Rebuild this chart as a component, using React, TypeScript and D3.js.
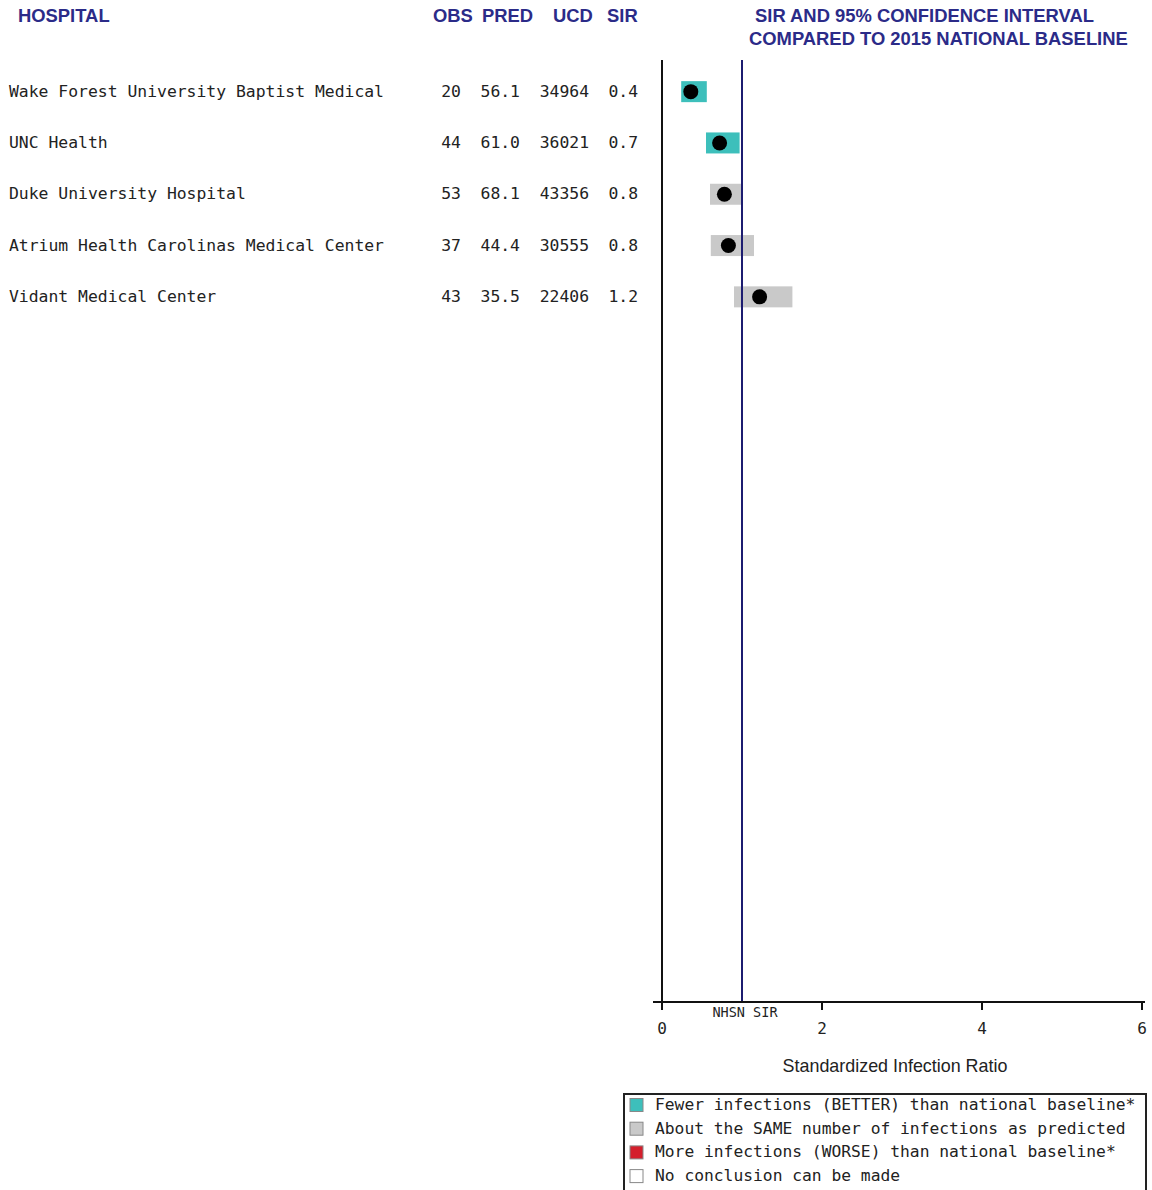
import { useEffect, useRef } from "react";
import * as d3 from "d3";

const HOSPITALS = [
  "Wake Forest University Baptist Medical",
  "UNC Health",
  "Duke University Hospital",
  "Atrium Health Carolinas Medical Center",
  "Vidant Medical Center",
];
const OBS = [20, 44, 53, 37, 43];
const PRED = ["56.1", "61.0", "68.1", "44.4", "35.5"];
const UCD = [34964, 36021, 43356, 30555, 22406];
const SIR_LABEL = ["0.4", "0.7", "0.8", "0.8", "1.2"];
const SIR = [0.36, 0.72, 0.78, 0.83, 1.22];
const CI_LOW = [0.24, 0.55, 0.6, 0.61, 0.9];
const CI_HIGH = [0.56, 0.97, 1.01, 1.15, 1.63];
const CATEGORY = ["better", "better", "same", "same", "same"];
const X_TICKS = [0, 2, 4, 6];
const BASELINE = 1;

const CAT_COLORS: Record<string, string> = {
  better: "#3dbfbb",
  same: "#c9c9c9",
  worse: "#d41f2c",
  none: "#ffffff",
};

const LEGEND = [
  { key: "better", label: "Fewer infections (BETTER) than national baseline*" },
  { key: "same", label: "About the SAME number of infections as predicted" },
  { key: "worse", label: "More infections (WORSE) than national baseline*" },
  { key: "none", label: "No conclusion can be made" },
];

const W = 1152;
const H = 1190;
const NAVY = "#2b2b88";
const MONO = "'DejaVu Sans Mono', 'Liberation Mono', monospace";
const SANS = "'Liberation Sans', Arial, sans-serif";
const HEAD_SIZE = 18.4;

function draw(svgEl: SVGSVGElement) {
  const svg = d3.select(svgEl);
  svg.selectAll("*").remove();

  const x = d3.scaleLinear().domain([0, 6]).range([662, 1142]);
  const y = d3.scaleBand<number>()
    .domain(d3.range(HOSPITALS.length))
    .range([66, 322.5])
    .paddingInner(0);

  // column headers
  [
    { t: "HOSPITAL", x: 18 },
    { t: "OBS", x: 433 },
    { t: "PRED", x: 482 },
    { t: "UCD", x: 553 },
    { t: "SIR", x: 607 },
  ].forEach((h) => {
    svg.append("text")
      .attr("x", h.x).attr("y", 22)
      .attr("font-family", SANS).attr("font-weight", "bold")
      .attr("font-size", HEAD_SIZE).attr("fill", NAVY)
      .attr("textLength", null)
      .text(h.t);
  });

  // chart title
  svg.append("text")
    .attr("x", 755).attr("y", 22)
    .attr("font-family", SANS).attr("font-weight", "bold")
    .attr("font-size", HEAD_SIZE).attr("fill", NAVY)
    .text("SIR AND 95% CONFIDENCE INTERVAL");
  svg.append("text")
    .attr("x", 749).attr("y", 45)
    .attr("font-family", SANS).attr("font-weight", "bold")
    .attr("font-size", HEAD_SIZE).attr("fill", NAVY)
    .text("COMPARED TO 2015 NATIONAL BASELINE");

  // table rows
  HOSPITALS.forEach((name, i) => {
    const cy = (y(i) ?? 0) + y.bandwidth() / 2;
    const row = svg.append("g").attr("font-family", MONO)
      .attr("font-size", 16.4).attr("fill", "#222");
    row.append("text").attr("x", 9).attr("y", cy + 5).text(name);
    row.append("text").attr("x", 461).attr("y", cy + 5)
      .attr("text-anchor", "end").text(OBS[i]);
    row.append("text").attr("x", 520).attr("y", cy + 5)
      .attr("text-anchor", "end").text(PRED[i]);
    row.append("text").attr("x", 589).attr("y", cy + 5)
      .attr("text-anchor", "end").text(UCD[i]);
    row.append("text").attr("x", 638).attr("y", cy + 5)
      .attr("text-anchor", "end").text(SIR_LABEL[i]);
  });

  const axisY = 1002;

  // CI bars
  HOSPITALS.forEach((_, i) => {
    const cy = (y(i) ?? 0) + y.bandwidth() / 2;
    svg.append("rect")
      .attr("x", x(CI_LOW[i]))
      .attr("y", cy - 10.5)
      .attr("width", x(CI_HIGH[i]) - x(CI_LOW[i]))
      .attr("height", 21)
      .attr("fill", CAT_COLORS[CATEGORY[i]]);
  });

  // baseline line
  svg.append("line")
    .attr("x1", x(BASELINE)).attr("x2", x(BASELINE))
    .attr("y1", 60).attr("y2", axisY)
    .attr("stroke", "#1c1c70").attr("stroke-width", 2);

  // points
  HOSPITALS.forEach((_, i) => {
    const cy = (y(i) ?? 0) + y.bandwidth() / 2;
    svg.append("circle")
      .attr("cx", x(SIR[i])).attr("cy", cy)
      .attr("r", 7.5).attr("fill", "#000");
  });

  // left axis line
  svg.append("line")
    .attr("x1", x(0)).attr("x2", x(0))
    .attr("y1", 60).attr("y2", axisY + 8)
    .attr("stroke", "#111").attr("stroke-width", 2);

  // x axis
  svg.append("line")
    .attr("x1", 653).attr("x2", 1145)
    .attr("y1", axisY).attr("y2", axisY)
    .attr("stroke", "#111").attr("stroke-width", 2);
  X_TICKS.forEach((t) => {
    svg.append("line")
      .attr("x1", x(t)).attr("x2", x(t))
      .attr("y1", axisY).attr("y2", axisY + 8)
      .attr("stroke", "#111").attr("stroke-width", 2);
    svg.append("text")
      .attr("x", x(t)).attr("y", 1034)
      .attr("text-anchor", "middle")
      .attr("font-family", MONO).attr("font-size", 16).attr("fill", "#222")
      .text(t);
  });
  svg.append("text")
    .attr("x", 745).attr("y", 1017)
    .attr("text-anchor", "middle")
    .attr("font-family", MONO).attr("font-size", 13.5).attr("fill", "#222")
    .text("NHSN SIR");
  svg.append("text")
    .attr("x", 895).attr("y", 1072)
    .attr("text-anchor", "middle")
    .attr("font-family", SANS).attr("font-size", 17.9).attr("fill", "#222")
    .text("Standardized Infection Ratio");

  // legend
  svg.append("rect")
    .attr("x", 624).attr("y", 1094)
    .attr("width", 522).attr("height", 100)
    .attr("fill", "#fff").attr("stroke", "#222").attr("stroke-width", 2);
  LEGEND.forEach((d, i) => {
    const ly = 1105 + i * 23.7;
    svg.append("rect")
      .attr("x", 630).attr("y", ly - 6.5)
      .attr("width", 13).attr("height", 13)
      .attr("fill", CAT_COLORS[d.key])
      .attr("stroke", "#888").attr("stroke-width", 1);
    svg.append("text")
      .attr("x", 655).attr("y", ly + 5)
      .attr("font-family", MONO).attr("font-size", 16.3).attr("fill", "#222")
      .text(d.label);
  });
}

export default function App() {
  const ref = useRef<SVGSVGElement>(null);
  useEffect(() => {
    if (ref.current) draw(ref.current);
  }, []);
  return (
    <div style={{ position: "absolute", left: 0, top: 0 }}>
      <svg ref={ref} width={W} height={H} style={{ display: "block", background: "#fff" }} />
    </div>
  );
}
